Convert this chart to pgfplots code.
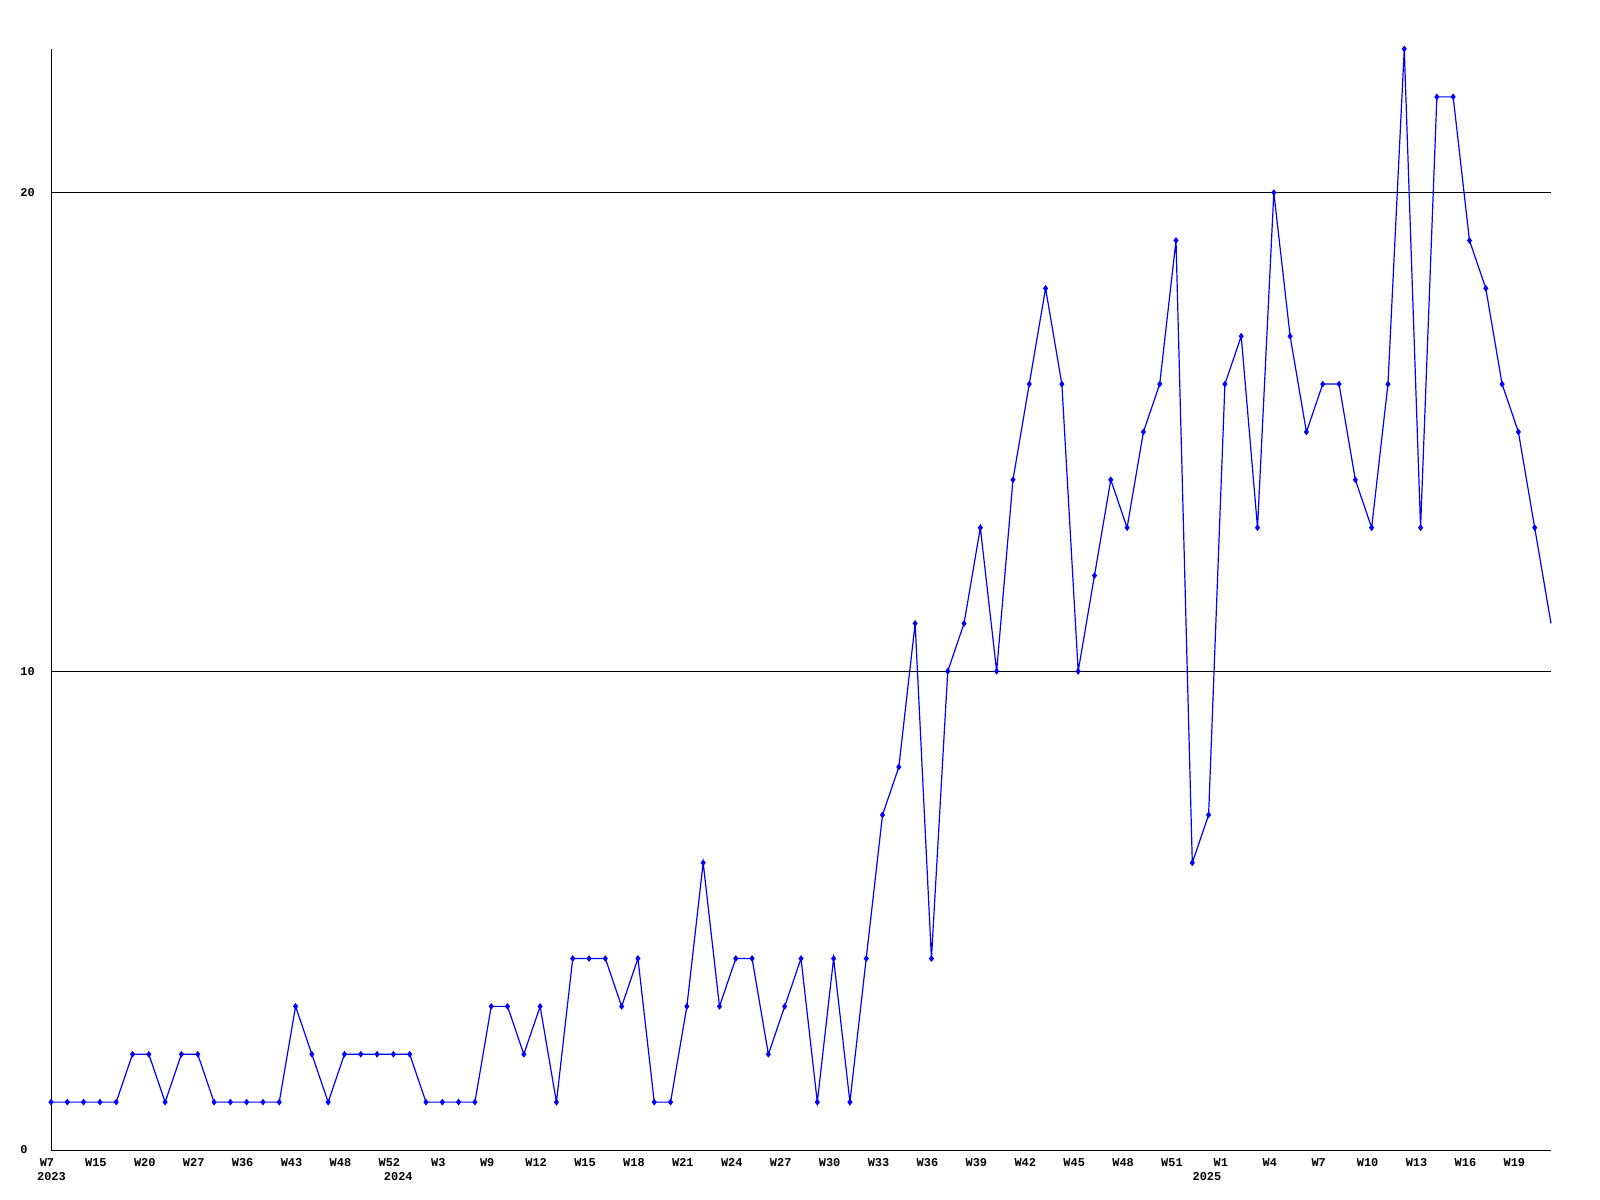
\documentclass[border=0pt]{standalone}
\usepackage{fontspec}
\setmonofont{Liberation Mono}
\usepackage{pgfplots}
\pgfplotsset{compat=1.18}
\definecolor{lineblue}{RGB}{0,0,255}
\begin{document}
\begin{tikzpicture}
\begin{axis}[
  at={(0,0)}, anchor=south west,
  scale only axis,
  width=750bp, height=550.5bp,
  xmin=0, xmax=92, ymin=0, ymax=23,
  axis lines*=left,
  axis line style={black, line width=0.5bp, -},
  xtick={0,3,...,90},
  xticklabels={W7,W15,W20,W27,W36,W43,W48,W52,W3,W9,W12,W15,W18,W21,W24,W27,W30,W33,W36,W39,W42,W45,W48,W51,W1,W4,W7,W10,W13,W16,W19},
  ytick={0,10,20},
  yticklabels={0,10,20},
  major tick length=0pt,
  ymajorgrids,
  grid style={black, line width=0.5bp},
  tick label style={font=\fontsize{6}{7}\selectfont\ttfamily\bfseries, inner sep=0pt},
  xticklabel style={anchor=north, xshift=-2bp, yshift=-4bp},
  yticklabel style={anchor=west, xshift=-15.5bp},
  clip=false,
]
\addplot[lineblue, line width=0.6bp, mark=diamond*, mark size=1.2bp, mark options={fill=lineblue}, mark indices={1,...,92}] coordinates {
(0,1)(1,1)(2,1)(3,1)(4,1)(5,2)(6,2)(7,1)(8,2)(9,2)
(10,1)(11,1)(12,1)(13,1)(14,1)(15,3)(16,2)(17,1)(18,2)(19,2)
(20,2)(21,2)(22,2)(23,1)(24,1)(25,1)(26,1)(27,3)(28,3)(29,2)
(30,3)(31,1)(32,4)(33,4)(34,4)(35,3)(36,4)(37,1)(38,1)(39,3)
(40,6)(41,3)(42,4)(43,4)(44,2)(45,3)(46,4)(47,1)(48,4)(49,1)
(50,4)(51,7)(52,8)(53,11)(54,4)(55,10)(56,11)(57,13)(58,10)(59,14)
(60,16)(61,18)(62,16)(63,10)(64,12)(65,14)(66,13)(67,15)(68,16)(69,19)
(70,6)(71,7)(72,16)(73,17)(74,13)(75,20)(76,17)(77,15)(78,16)(79,16)
(80,14)(81,13)(82,16)(83,23)(84,13)(85,22)(86,22)(87,19)(88,18)(89,16)
(90,15)(91,13)(92,11)
};
\node[font=\fontsize{6}{7}\selectfont\ttfamily\bfseries, inner sep=0pt, anchor=north] at (axis cs:0.03,0) [yshift=-11bp] {2023};
\node[font=\fontsize{6}{7}\selectfont\ttfamily\bfseries, inner sep=0pt, anchor=north] at (axis cs:21.3,0) [yshift=-11bp] {2024};
\node[font=\fontsize{6}{7}\selectfont\ttfamily\bfseries, inner sep=0pt, anchor=north] at (axis cs:70.9,0) [yshift=-11bp] {2025};
\end{axis}
\pgfresetboundingbox
\path[use as bounding box] (-25.5bp,-25bp) rectangle (774.5bp,575bp);
\end{tikzpicture}
\end{document}
